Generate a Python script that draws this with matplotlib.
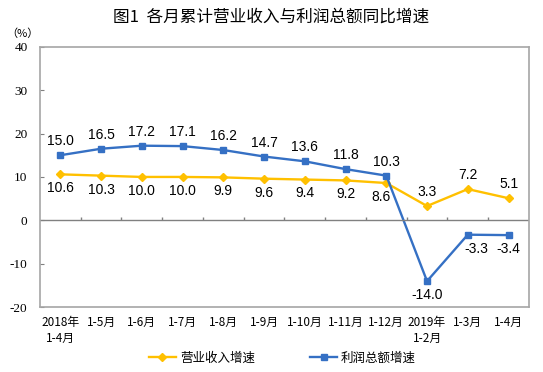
import numpy as np
import matplotlib.pyplot as plt

plt.rcParams['font.family'] = ['Noto Sans CJK SC', 'DejaVu Sans']

# 数据
months = ['2018年\n1-4月', '1-5月', '1-6月', '1-7月', '1-8月', '1-9月',
          '1-10月', '1-11月', '1-12月', '2019年\n1-2月', '1-3月', '1-4月']
revenue = [10.6, 10.3, 10.0, 10.0, 9.9, 9.6, 9.4, 9.2, 8.6, 3.3, 7.2, 5.1]
profit = [15.0, 16.5, 17.2, 17.1, 16.2, 14.7, 13.6, 11.8, 10.3, -14.0, -3.3, -3.4]
# 标签位置: 1 在上方, -1 在下方
rev_pos = [-1, -1, -1, -1, -1, -1, -1, -1, -1, 1, 1, 1]
pro_pos = [1, 1, 1, 1, 1, 1, 1, 1, 1, -1, -1, -1]
# 个别标签水平微调 (points)
rev_dx = [0, 0, 0, 0, 0, 0, 0, 0, -4, 0, 0, 0]
pro_dx = [0, 0, 0, 0, 0, 0, 0, 0, 0, 0, 6, 0]

YELLOW = '#FFC000'
BLUE = '#3570C4'

fig = plt.figure(figsize=(5.43, 3.72), dpi=100)
ax = fig.add_axes([0.0737, 0.1742, 0.9003, 0.7003])

x = np.arange(len(months))
ax.plot(x, revenue, color=YELLOW, lw=1.7, marker='D', ms=4.5, label='营业收入增速')
ax.plot(x, profit, color=BLUE, lw=1.7, marker='s', ms=4.5, label='利润总额增速')

for xi, v, p, dx in zip(x, revenue, rev_pos, rev_dx):
    ax.annotate('%.1f' % v, (xi, v), xytext=(dx, 10 * p), textcoords='offset points',
                ha='center', va='center', fontsize=10, family='Liberation Sans')
for xi, v, p, dx in zip(x, profit, pro_pos, pro_dx):
    ax.annotate('%.1f' % v, (xi, v), xytext=(dx, 10 * p), textcoords='offset points',
                ha='center', va='center', fontsize=10, family='Liberation Sans')

ax.set_xlim(-0.5, len(months) - 0.5)
ax.set_ylim(-20, 40)
ax.set_yticks([-20, -10, 0, 10, 20, 30, 40])
ax.set_yticklabels(['-20', '-10', '0', '10', '20', '30', '40'],
                   family='Liberation Serif', fontsize=9.5)
ax.set_xticks(x)
ax.set_xticklabels(months, fontsize=8.5, linespacing=1.35)
ax.tick_params(axis='x', length=0, pad=6)
ax.tick_params(axis='y', direction='in', length=3, color='#808080', pad=9)

for s in ax.spines.values():
    s.set_color('#A6A6A6')
    s.set_linewidth(1.2)

# 零轴与刻度
ax.axhline(0, color='#808080', lw=1.0)
ax.vlines(x[:-1] + 0.5, 0, 0.75, color='#808080', lw=1.0)

ax.text(-0.068, 1.03, '（%）', transform=ax.transAxes, fontsize=8,
        ha='left', va='bottom')

fig.text(0.5, 0.955, '图1  各月累计营业收入与利润总额同比增速', ha='center', va='center',
         fontsize=12)

fig.legend(loc='lower center', bbox_to_anchor=(0.52, -0.01), ncol=2, frameon=False,
           fontsize=9, handlelength=2.2, columnspacing=4.4, handletextpad=0.3)

fig.savefig('out.png', dpi=100)
